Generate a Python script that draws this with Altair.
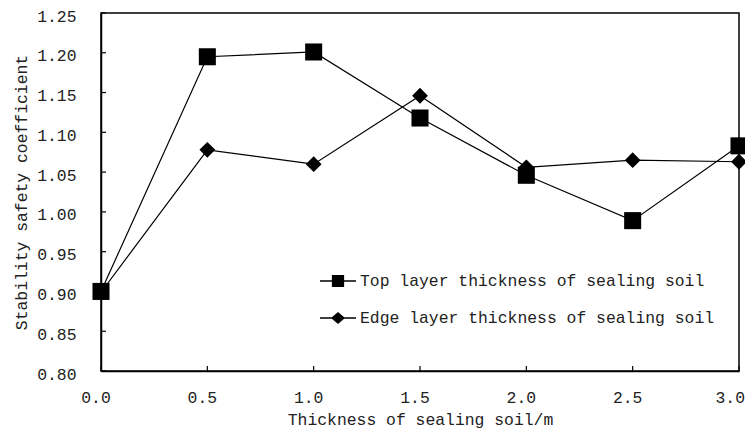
import altair as alt
import pandas as pd

thickness = [0.0, 0.5, 1.0, 1.5, 2.0, 2.5, 3.0]
top_layer = [0.900, 1.195, 1.201, 1.118, 1.046, 0.989, 1.083]
edge_layer = [0.899, 1.078, 1.060, 1.146, 1.056, 1.065, 1.063]
series_names = ["Top layer thickness of sealing soil", "Edge layer thickness of sealing soil"]
x_ticks = [0.0, 0.5, 1.0, 1.5, 2.0, 2.5, 3.0]
x_tick_labels = ["0.0", "0.5", "1.0", "1.5", "2.0", "2.5", "3.0"]
y_ticks = [0.80, 0.85, 0.90, 0.95, 1.00, 1.05, 1.10, 1.15, 1.20, 1.25]

rows = []
for x, t, e in zip(thickness, top_layer, edge_layer):
    rows.append({"x": x, "y": t, "series": series_names[0]})
    rows.append({"x": x, "y": e, "series": series_names[1]})
df = pd.DataFrame(rows)
xt = pd.DataFrame({"v": x_ticks, "label": x_tick_labels})
yt = pd.DataFrame({"v": y_ticks})

FONT = "Liberation Mono"
FS = 16.4
TXT = "#222222"
W, H = 638, 358

xscale = alt.Scale(domain=[0, 3], nice=False, zero=False)
yscale = alt.Scale(domain=[0.8, 1.25], nice=False, zero=False)

xaxis = alt.Axis(values=x_ticks, tickSize=0, labels=False,
                 title="Thickness of sealing soil/m", titlePadding=40,
                 grid=False, domainColor="black", domainWidth=1.5)
yaxis = alt.Axis(values=y_ticks, format=".2f", tickSize=0, labelPadding=25,
                 labelOverlap=False, labelFlush=False, labelOffset=3,
                 title="Stability safety coefficient", titlePadding=7,
                 grid=False, domainColor="black", domainWidth=1.5)

X = alt.X("x:Q", scale=xscale, axis=xaxis)
Y = alt.Y("y:Q", scale=yscale, axis=yaxis)

lines = alt.Chart(df).mark_line(color="black", strokeWidth=1.2).encode(
    x=X, y=Y, detail="series:N",
)

points = alt.Chart(df).mark_point(filled=True, color="black", opacity=1).encode(
    x=X, y=Y,
    shape=alt.Shape("series:N", scale=alt.Scale(domain=series_names, range=["square", "diamond"]), legend=None),
    size=alt.Size("series:N", scale=alt.Scale(domain=series_names, range=[290, 250]), legend=None),
)

legend_paths = [
    "M-1,-0.035L1,-0.035L1,0.035L-1,0.035ZM-0.34,-0.34L0.34,-0.34L0.34,0.34L-0.34,0.34Z",
    "M-1,-0.035L1,-0.035L1,0.035L-1,0.035ZM-0.39,0L0,-0.34L0.39,0L0,0.34Z",
]
legend_layer = alt.Chart(df).mark_point(
    filled=True, color="black", opacity=0
).encode(
    x=X, y=Y,
    shape=alt.Shape("series:N", scale=alt.Scale(domain=series_names, range=legend_paths),
                    legend=alt.Legend(title=None, orient="none", legendX=219, legendY=250,
                                      symbolSize=1296, symbolFillColor="black",
                                      symbolStrokeWidth=0,
                                      symbolOpacity=1, labelOffset=4, rowPadding=10,
                                      padding=0, labelFont=FONT, labelFontSize=FS,
                                      labelColor=TXT, labelLimit=500)),
)

yticks_layer = alt.Chart(yt).mark_rule(color="black", strokeWidth=1.2).encode(
    y=alt.Y("v:Q", scale=yscale, axis=yaxis),
    x=alt.value(0), x2=alt.value(5),
)
xticks_layer = alt.Chart(xt).mark_rule(color="black", strokeWidth=1.2).encode(
    x=alt.X("v:Q", scale=xscale, axis=xaxis),
    y=alt.value(H), y2=alt.value(H - 5),
)

xlab_main = alt.Chart(xt).transform_filter("datum.v < 3").mark_text(
    font=FONT, fontSize=FS, color=TXT, baseline="top", align="center", dx=-5, dy=19
).encode(
    x=alt.X("v:Q", scale=xscale, axis=xaxis),
    y=alt.value(H),
    text="label:N",
)
xlab_last = alt.Chart(xt).transform_filter("datum.v >= 3").mark_text(
    font=FONT, fontSize=FS, color=TXT, baseline="top", align="right", dx=6, dy=19
).encode(
    x=alt.X("v:Q", scale=xscale, axis=xaxis),
    y=alt.value(H),
    text="label:N",
)

chart = alt.layer(lines, yticks_layer, xticks_layer, xlab_main, xlab_last, points, legend_layer).resolve_scale(
    shape="independent", size="independent"
).resolve_legend(shape="independent", size="independent").properties(
    width=W, height=H,
    padding={"left": 93, "top": 5, "right": 6, "bottom": 59},
    autosize=alt.AutoSizeParams(type="none"),
).configure_view(
    stroke="black", strokeWidth=1.5
).configure_axis(
    labelFont=FONT, labelFontSize=FS, labelColor=TXT,
    titleFont=FONT, titleFontSize=FS, titleColor=TXT, titleFontWeight="normal",
)

chart.save("out.html", embed_options={"renderer": "svg", "actions": False})
